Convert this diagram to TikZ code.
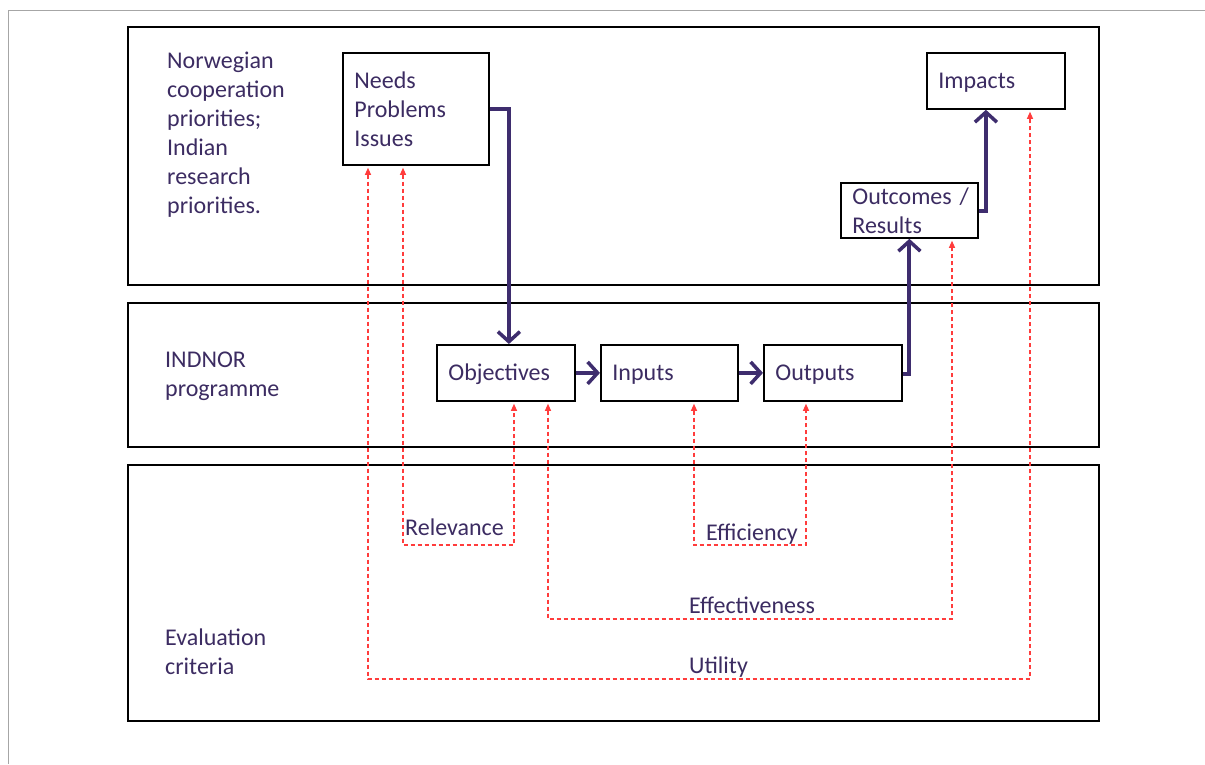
\documentclass[tikz,border=0pt]{standalone}
\usepackage{fontspec}
\setmainfont{Carlito}
\usetikzlibrary{arrows.meta,calc}
\definecolor{txtpurple}{RGB}{60,44,98}
\definecolor{arrpurple}{RGB}{62,45,110}
\definecolor{dashred}{RGB}{255,60,60}
\tikzset{
  x=1pt,y=-1pt,
  every node/.style={font=\fontsize{24}{29}\selectfont, text=txtpurple},
  band/.style={draw=black, line width=2pt, anchor=north west, inner sep=0pt},
  itembox/.style={draw=black, line width=1.8pt, anchor=north west, align=left, inner xsep=11.5pt, inner ysep=0pt},
  onebox/.style={itembox, text height=21pt, text depth=5pt},
  lbl/.style={anchor=north west, align=left, inner sep=0pt},
  parr/.style={draw=arrpurple, line width=4pt, -{Straight Barb[length=10pt,width=22pt,line width=3.5pt]}},
  rarr/.style={draw=dashred, line width=1.1pt, dash pattern=on 4pt off 3pt, {Triangle[length=7pt,width=6pt]}-{Triangle[length=7pt,width=6pt]}, shorten <=2pt, shorten >=2pt},
}
\begin{document}
\begin{tikzpicture}
\useasboundingbox (0,0) rectangle (1205,764);
\fill[white] (0,0) rectangle (1205,764);
\draw[gray!70, line width=1pt] (1205,10) -- (8,10) -- (8,764);

% bands
\node[band, minimum width=971pt, minimum height=258pt] (b1) at (127,26) {};
\node[band, minimum width=971pt, minimum height=144pt] (b2) at (127,302) {};
\node[band, minimum width=971pt, minimum height=256pt] (b3) at (127,464) {};

% band labels
\node[lbl] (lnor) at (167,52) {Norwegian\\cooperation\\priorities;\\Indian\\research\\priorities.};
\node[lbl] (lind) at (165,352) {INDNOR\\programme};
\node[lbl] (leval) at (165,629) {Evaluation\\criteria};

% item boxes
\node[itembox, text width=123pt, minimum height=112pt] (needs) at (342,52) {Needs\\Problems\\Issues};
\node[onebox, text width=115pt, minimum height=56pt] (impacts) at (926,52) {Impacts};
\node[itembox, text width=114pt, minimum height=55pt] (outcomes) at (840,182) {Outcomes~/\\Results};
\node[onebox, text width=115pt, minimum height=56pt] (obj) at (436,344) {Objectives};
\node[onebox, text width=114pt, minimum height=56pt] (inputs) at (600,344) {Inputs};
\node[onebox, text width=115pt, minimum height=56pt] (outputs) at (763,344) {Outputs};

% purple flow arrows
\draw[parr] (needs.east) -| ([xshift=3pt]obj.north);
\draw[parr] (obj.east) -- (inputs.west);
\draw[parr] (inputs.east) -- (outputs.west);
\draw[parr] ([yshift=-1pt]outputs.east) -| (outcomes.south);
\draw[parr] ([yshift=-1pt]outcomes.east) -| ([xshift=-10pt]impacts.south);

% criteria labels
\node[lbl] (rel) at (405,519) {Relevance};
\node[lbl] (eff) at (706,524) {Efficiency};
\node[lbl] (effe) at (689,597) {Effectiveness};
\node[lbl] (uti) at (689,657) {Utility};

% corner coordinates
\coordinate (relc) at (458,545);
\coordinate (effc) at (750,545);
\coordinate (effec) at (750,619);
\coordinate (utic) at (700,679);

% red dashed criteria connectors
\draw[rarr] ([xshift=61pt]needs.south west) |- (relc) -| ([xshift=78pt]obj.south west);
\draw[rarr] ([xshift=94pt]inputs.south west) |- (effc) -| ([xshift=43pt]outputs.south west);
\draw[rarr] ([xshift=112pt]obj.south west) |- (effec) -| ([xshift=112pt]outcomes.south west);
\draw[rarr] ([xshift=26pt]needs.south west) |- (utic) -| ([xshift=104pt]impacts.south west);
\end{tikzpicture}
\end{document}
